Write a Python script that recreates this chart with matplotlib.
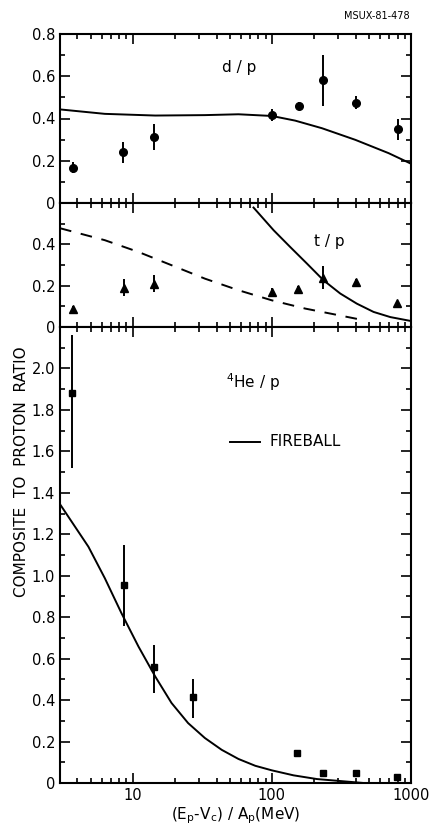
import matplotlib.pyplot as plt
from matplotlib.ticker import MultipleLocator, FixedLocator, NullFormatter, LogLocator

plt.rcParams['font.family'] = ['DejaVu Sans']

# d/p data (circles)
dp_x = [3.7, 8.5, 14.3, 100, 156, 235, 402, 806]
dp_y = [0.167, 0.24, 0.314, 0.417, 0.46, 0.58, 0.475, 0.349]
dp_err = [0.025, 0.05, 0.062, 0.03, 0.02, 0.12, 0.03, 0.05]
dp_curve_x = [3, 6.3, 14.5, 33, 57.5, 100, 147, 229, 398, 690, 1000]
dp_curve_y = [0.443, 0.422, 0.414, 0.416, 0.42, 0.412, 0.39, 0.354, 0.299, 0.236, 0.186]

# t/p data (triangles)
tp_x = [3.7, 8.6, 14.3, 100, 155, 232, 400, 790]
tp_y = [0.089, 0.19, 0.21, 0.17, 0.183, 0.239, 0.218, 0.116]
tp_err = [0.015, 0.04, 0.04, 0.02, 0.015, 0.055, 0.015, 0.01]
tp_curve_x = [73.8, 103, 135.5, 178.6, 235, 310, 408, 538, 710, 1000]
tp_curve_y = [0.578, 0.468, 0.387, 0.307, 0.226, 0.162, 0.113, 0.073, 0.048, 0.029]
tp_dash_x = [3, 6.3, 11, 19, 33, 57.5, 100, 174, 302, 440]
tp_dash_y = [0.478, 0.42, 0.363, 0.299, 0.234, 0.178, 0.129, 0.089, 0.057, 0.035]

# 4He/p data (squares)
he_x = [3.64, 8.7, 14.2, 27, 151, 232, 400, 790]
he_y = [1.88, 0.956, 0.562, 0.414, 0.147, 0.048, 0.048, 0.027]
he_err_lo = [0.36, 0.2, 0.13, 0.1, 0.02, 0.02, 0.01, 0.01]
he_err_hi = [0.28, 0.19, 0.105, 0.09, 0.01, 0.01, 0.01, 0.01]
he_curve_x = [3, 4.8, 6.3, 8.3, 11, 14.5, 19, 25, 33, 43.6, 57.5, 76, 100, 143, 211, 456]
he_curve_y = [1.345, 1.14, 0.988, 0.819, 0.658, 0.514, 0.386, 0.289, 0.217, 0.16, 0.116,
              0.083, 0.061, 0.037, 0.019, 0.0]

fig = plt.figure(figsize=(4.31, 8.34), dpi=100)
L, W = 60 / 431, (411 - 60) / 431


def frac(y0, y1):
    return [L, 1 - y1 / 834, W, (y1 - y0) / 834]


ax1 = fig.add_axes(frac(34, 203))
ax2 = fig.add_axes(frac(203, 327))
ax3 = fig.add_axes(frac(327, 783))

for ax, top, labels in [(ax1, 0.8, [0, 0.2, 0.4, 0.6, 0.8]),
                        (ax2, 0.6, [0, 0.2, 0.4]),
                        (ax3, 2.2, [0, 0.2, 0.4, 0.6, 0.8, 1.0, 1.2, 1.4, 1.6, 1.8, 2.0])]:
    ax.set_xscale('log')
    ax.set_xlim(3, 1000)
    ax.set_ylim(0, top)
    ax.yaxis.set_major_locator(FixedLocator(labels))
    ax.set_yticklabels(['0' if v == 0 else f'{v:.1f}' for v in labels], fontsize=10.5)
    ax.yaxis.set_minor_locator(MultipleLocator(0.1))
    ax.xaxis.set_minor_locator(LogLocator(base=10, subs=range(2, 10), numticks=20))
    ax.xaxis.set_minor_formatter(NullFormatter())
    ax.tick_params(which='both', direction='in', top=True, right=True, width=1.2)
    ax.tick_params(which='major', length=7)
    ax.tick_params(which='minor', length=3.5)
    for s in ax.spines.values():
        s.set_linewidth(1.5)
    if ax is not ax3:
        ax.tick_params(labelbottom=False)

# d/p
ax1.plot(dp_curve_x, dp_curve_y, color='black', lw=1.4)
ax1.errorbar(dp_x, dp_y, yerr=dp_err, fmt='o', color='black', ms=5.5, elinewidth=1.4, capsize=0)
fig.text(222 / 431, 1 - 72 / 834, 'd / p', fontsize=11)

# t/p
ax2.plot(tp_curve_x, tp_curve_y, color='black', lw=1.4)
ax2.plot(tp_dash_x, tp_dash_y, color='black', lw=1.4, dashes=(6, 5))
ax2.errorbar(tp_x, tp_y, yerr=tp_err, fmt='^', color='black', ms=5.5, elinewidth=1.4, capsize=0)
fig.text(314 / 431, 1 - 246 / 834, 't / p', fontsize=11)

# 4He/p
ax3.plot(he_curve_x, he_curve_y, color='black', lw=1.4)
ax3.errorbar(he_x, he_y, yerr=[he_err_lo, he_err_hi], fmt='s', color='black', ms=5, elinewidth=1.4, capsize=0)
fig.text(226 / 431, 1 - 388 / 834, r'$^{4}$He / p', fontsize=11)
fig.add_artist(plt.Line2D([230 / 431, 260 / 431], [1 - 441.5 / 834] * 2, color='black', lw=1.4))
fig.text(270 / 431, 1 - 441.5 / 834, 'FIREBALL', fontsize=11, va='center')

ax3.set_xticks([10, 100, 1000])
ax3.set_xticklabels(['10', '100', '1000'], fontsize=10.5)
ax3.set_xlabel(r'(E$_\mathrm{p}$-V$_\mathrm{c}$) / A$_\mathrm{p}$(MeV)', fontsize=11, labelpad=2)

fig.text(22 / 431, 1 - 472 / 834, 'COMPOSITE  TO  PROTON  RATIO', rotation=90,
         fontsize=11, ha='center', va='center')
fig.text(410 / 431, 1 - 16 / 834, 'MSUX-81-478', fontsize=7, ha='right', va='center')

fig.savefig('out.png', dpi=100)
